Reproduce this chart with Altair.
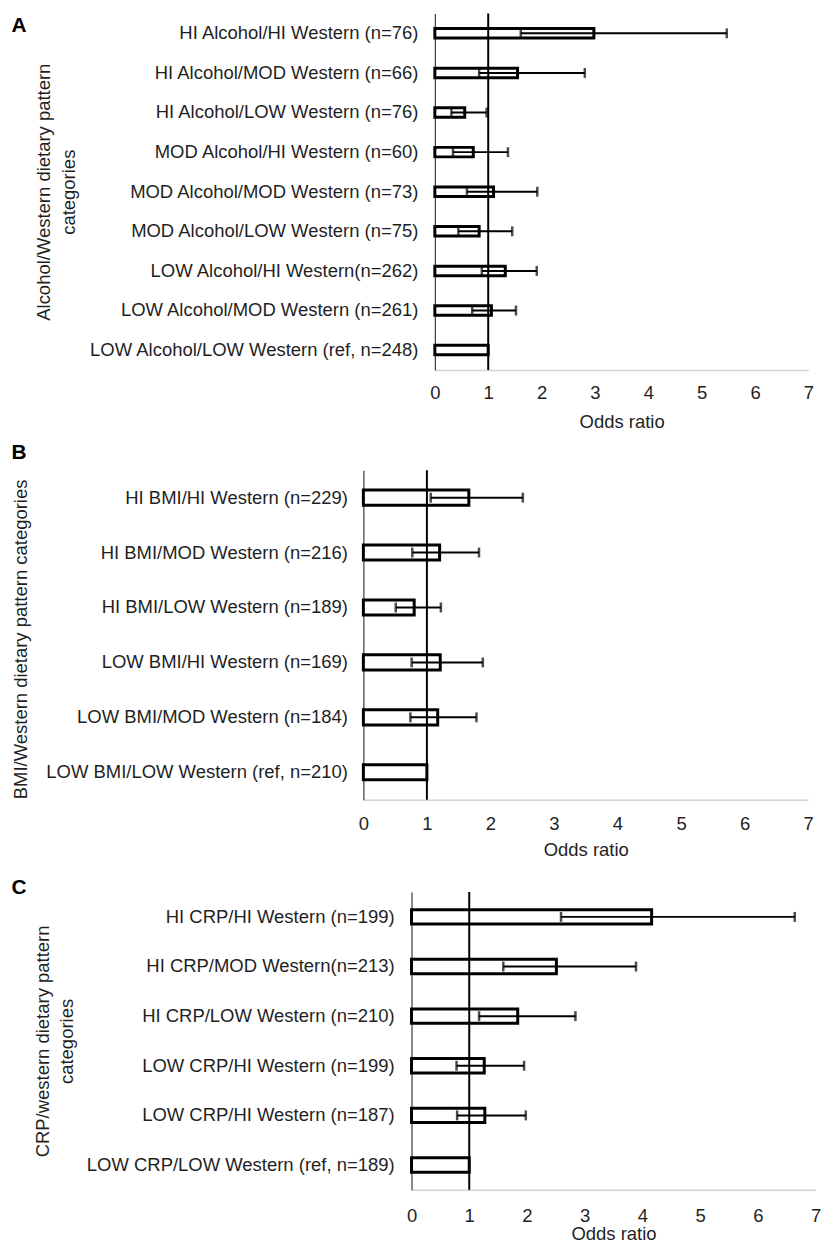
import altair as alt
import pandas as pd

FONT = "Liberation Sans"
TXT = "#1f1f1f"
FS = 18.6

x_ticks = [0, 1, 2, 3, 4, 5, 6, 7]
ref_value = [1.0]

# ---------- Panel A ----------
a_labels = [
    "HI Alcohol/HI Western (n=76)",
    "HI Alcohol/MOD Western (n=66)",
    "HI Alcohol/LOW Western (n=76)",
    "MOD Alcohol/HI Western (n=60)",
    "MOD Alcohol/MOD Western (n=73)",
    "MOD Alcohol/LOW Western (n=75)",
    "LOW Alcohol/HI Western(n=262)",
    "LOW Alcohol/MOD Western (n=261)",
    "LOW Alcohol/LOW Western (ref, n=248)",
]
a_or = [2.98, 1.55, 0.56, 0.72, 1.10, 0.83, 1.32, 1.06, 1.00]
a_lo = [1.61, 0.83, 0.31, 0.34, 0.60, 0.44, 0.88, 0.70]
a_hi = [5.47, 2.81, 0.97, 1.37, 1.92, 1.45, 1.91, 1.52]
a_title = ["Alcohol/Western dietary pattern", "categories"]

# ---------- Panel B ----------
b_labels = [
    "HI BMI/HI Western (n=229)",
    "HI BMI/MOD Western  (n=216)",
    "HI BMI/LOW Western (n=189)",
    "LOW BMI/HI Western (n=169)",
    "LOW BMI/MOD Western (n=184)",
    "LOW BMI/LOW Western  (ref, n=210)",
]
b_or = [1.66, 1.20, 0.80, 1.21, 1.17, 1.00]
b_lo = [1.06, 0.77, 0.51, 0.76, 0.74]
b_hi = [2.51, 1.82, 1.22, 1.88, 1.78]
b_title = "BMI/Western dietary pattern categories"

# ---------- Panel C ----------
c_labels = [
    "HI CRP/HI Western (n=199)",
    "HI CRP/MOD Western(n=213)",
    "HI CRP/LOW Western (n=210)",
    "LOW CRP/HI Western (n=199)",
    "LOW CRP/HI Western (n=187)",
    "LOW CRP/LOW Western (ref, n=189)",
]
c_or = [4.16, 2.51, 1.84, 1.26, 1.27, 1.00]
c_lo = [2.59, 1.59, 1.17, 0.78, 0.79]
c_hi = [6.64, 3.89, 2.84, 1.95, 1.98]
c_title = ["CRP/western dietary pattern", "categories"]

LEFT = -356  # left edge of every panel, relative to the shared origin


def panel(letter, labels, ors, los, his, ytitle, g):
    df = pd.DataFrame({"label": labels, "or": ors})
    err = pd.DataFrame({"label": labels[: len(los)], "lo": los, "hi": his})
    ref = pd.DataFrame({"ref": ref_value})
    band = g["band"]
    yaxis = alt.Axis(
        title=ytitle, titleX=g["titleX"], titleY=g["titleY"], titleAngle=-90,
        titleAlign="center", titleBaseline="bottom", titleFont=FONT,
        titleFontSize=FS, titleFontWeight="normal", titleColor=TXT,
        titleLineHeight=g["lh"],
        labelFont=FONT, labelFontSize=FS, labelColor=TXT,
        labelPadding=g["lp"], labelLimit=600,
        ticks=False, tickSize=0, domainColor="#3a3a3a", domainWidth=1.2,
        grid=False, offset=-g["x0"],
    )
    yenc = alt.Y("label:N", sort=labels,
                 scale=alt.Scale(paddingInner=1 - band, paddingOuter=(1 - band) / 2),
                 axis=yaxis)
    yplain = alt.Y("label:N", sort=labels)
    xscale = alt.Scale(domain=[0, 7], range=[g["x0"], g["x7"]], nice=False)
    xaxis = alt.Axis(
        values=x_ticks, format="d", title="Odds ratio", grid=False, ticks=False,
        tickSize=0, labelFlush=False, labelOverlap=False,
        labelFont=FONT, labelFontSize=FS, labelColor=TXT, labelPadding=g["xlp"],
        titleFont=FONT, titleFontSize=FS, titleFontWeight="normal", titleColor=TXT,
        titleY=g["xty"], titleBaseline="alphabetic",
        domainColor="#d4d4d4", domainWidth=1.5,
    )
    bars = alt.Chart(df).mark_bar(fill="white", stroke="black", strokeWidth=3).encode(
        x=alt.X("or:Q", scale=xscale, axis=xaxis), y=yenc
    )
    refline = alt.Chart(ref).mark_rule(color="black", strokeWidth=2).encode(x="ref:Q")
    errline = alt.Chart(err).mark_rule(color="black", strokeWidth=2).encode(
        x="lo:Q", x2="hi:Q", y=yplain
    )
    cap_lo = alt.Chart(err).mark_tick(color="black", size=10, thickness=2.5).encode(
        x="lo:Q", y=yplain
    )
    cap_hi = alt.Chart(err).mark_tick(color="black", size=10, thickness=2.5).encode(
        x="hi:Q", y=yplain
    )
    let = alt.Chart(pd.DataFrame({"letter": [letter]})).mark_text(
        font=FONT, fontSize=21, fontWeight="bold", align="left", baseline="middle",
        color="black"
    ).encode(x=alt.value(LEFT + 1.5), y=alt.value(g["ly"]), text="letter:N")
    spacer = alt.Chart(pd.DataFrame({"s": [0]})).mark_rule(opacity=0).encode(
        x=alt.value(LEFT), y=alt.value(-g["top"]), y2=alt.value(g["h"] + g["bottom"])
    )
    return alt.layer(bars, refline, errline, cap_lo, cap_hi, let, spacer).properties(
        width=g["w"], height=g["h"]
    )


ga = dict(x0=72, x7=448.3, w=449, h=359, band=0.24, lp=17, titleX=-384, titleY=179.5,
          lh=25, xlp=14, xty=58, ly=12.5, top=0, bottom=66)
gb = dict(x0=0, x7=448, w=448, h=332, band=0.275, lp=16, titleX=-335.5, titleY=170,
          lh=25, xlp=15, xty=56.6, ly=-17, top=35, bottom=66)
gc = dict(x0=48.5, x7=455.5, w=456, h=300, band=0.29, lp=17.5, titleX=-361.5, titleY=150,
          lh=24, xlp=16.5, xty=50.5, ly=-4, top=27, bottom=53)

pa = panel("A", a_labels, a_or, a_lo, a_hi, a_title, ga)
pb = panel("B", b_labels, b_or, b_lo, b_hi, b_title, gb)
pc = panel("C", c_labels, c_or, c_lo, c_hi, c_title, gc)

chart = alt.vconcat(pa, pb, pc, spacing=0).properties(
    padding={"left": 2, "top": 0, "right": 0, "bottom": 0}
).configure(font=FONT, background="white").configure_view(
    stroke="transparent", strokeWidth=0
)

chart.save("out.html", embed_options={"renderer": "svg", "actions": False})
